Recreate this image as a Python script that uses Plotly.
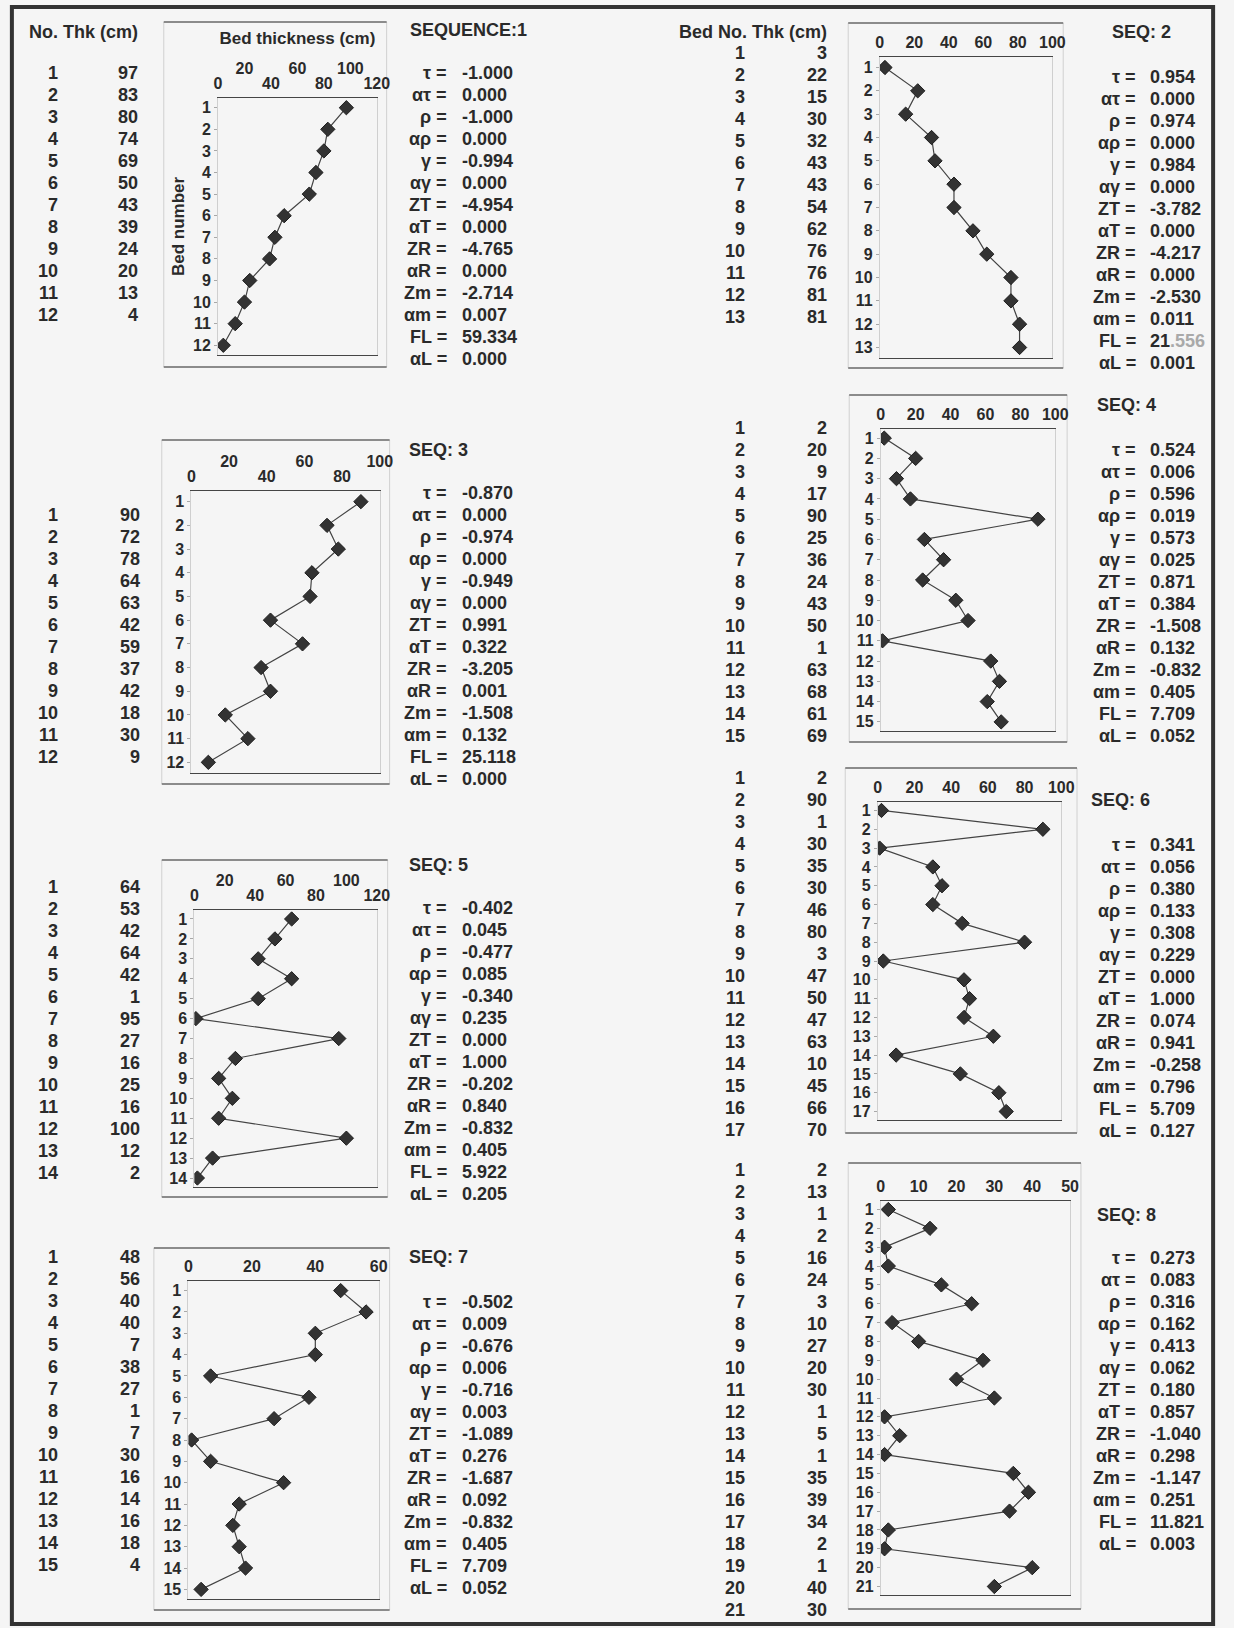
import plotly.graph_objects as go

W, H = 1234, 1628

# ---------------- data ----------------
seq_titles = ["SEQUENCE:1", "SEQ: 2", "SEQ: 3", "SEQ: 4", "SEQ: 5", "SEQ: 6", "SEQ: 7", "SEQ: 8"]

thk1 = [97, 83, 80, 74, 69, 50, 43, 39, 24, 20, 13, 4]
thk2 = [3, 22, 15, 30, 32, 43, 43, 54, 62, 76, 76, 81, 81]
thk3 = [90, 72, 78, 64, 63, 42, 59, 37, 42, 18, 30, 9]
thk4 = [2, 20, 9, 17, 90, 25, 36, 24, 43, 50, 1, 63, 68, 61, 69]
thk5 = [64, 53, 42, 64, 42, 1, 95, 27, 16, 25, 16, 100, 12, 2]
thk6 = [2, 90, 1, 30, 35, 30, 46, 80, 3, 47, 50, 47, 63, 10, 45, 66, 70]
thk7 = [48, 56, 40, 40, 7, 38, 27, 1, 7, 30, 16, 14, 16, 18, 4]
thk8 = [2, 13, 1, 2, 16, 24, 3, 10, 27, 20, 30, 1, 5, 1, 35, 39, 34, 2, 1, 40, 30]

stat_labels = ["τ =", "ατ =", "ρ =", "αρ =", "γ =", "αγ =", "ZT =", "αT =",
               "ZR =", "αR =", "Zm =", "αm =", "FL =", "αL ="]

stats1 = ["-1.000", "0.000", "-1.000", "0.000", "-0.994", "0.000", "-4.954", "0.000",
          "-4.765", "0.000", "-2.714", "0.007", "59.334", "0.000"]
stats2 = ["0.954", "0.000", "0.974", "0.000", "0.984", "0.000", "-3.782", "0.000",
          "-4.217", "0.000", "-2.530", "0.011", "21.556", "0.001"]
stats3 = ["-0.870", "0.000", "-0.974", "0.000", "-0.949", "0.000", "0.991", "0.322",
          "-3.205", "0.001", "-1.508", "0.132", "25.118", "0.000"]
stats4 = ["0.524", "0.006", "0.596", "0.019", "0.573", "0.025", "0.871", "0.384",
          "-1.508", "0.132", "-0.832", "0.405", "7.709", "0.052"]
stats5 = ["-0.402", "0.045", "-0.477", "0.085", "-0.340", "0.235", "0.000", "1.000",
          "-0.202", "0.840", "-0.832", "0.405", "5.922", "0.205"]
stats6 = ["0.341", "0.056", "0.380", "0.133", "0.308", "0.229", "0.000", "1.000",
          "0.074", "0.941", "-0.258", "0.796", "5.709", "0.127"]
stats7 = ["-0.502", "0.009", "-0.676", "0.006", "-0.716", "0.003", "-1.089", "0.276",
          "-1.687", "0.092", "-0.832", "0.405", "7.709", "0.052"]
stats8 = ["0.273", "0.083", "0.316", "0.162", "0.413", "0.062", "0.180", "0.857",
          "-1.040", "0.298", "-1.147", "0.251", "11.821", "0.003"]

# x-axis tick values (lower row, upper staggered row)
ticks_lo = [[0, 40, 80, 120], [0, 20, 40, 60, 80, 100], [0, 40, 80], [0, 20, 40, 60, 80, 100],
            [0, 40, 80, 120], [0, 20, 40, 60, 80, 100], [0, 20, 40, 60], [0, 10, 20, 30, 40, 50]]
ticks_hi = [[20, 60, 100], [], [20, 60, 100], [], [20, 60, 100], [], [], []]
x_max = [120, 100, 100, 100, 120, 100, 60, 50]

table_headers = ["No. Thk (cm)", "Bed No. Thk (cm)", "", "", "", "", "", ""]

thks = [thk1, thk2, thk3, thk4, thk5, thk6, thk7, thk8]
stats = [stats1, stats2, stats3, stats4, stats5, stats6, stats7, stats8]

# ---------------- layout geometry (pixels) ----------------
geo = [
    dict(plot=(217, 378, 98, 355), box=(162, 388, 22, 367), row0=73, stat0=73, title=(410, 30),
         col_bed=57, col_thk=138, lab=451, val=462, head=32),
    dict(plot=(888, 1063, 57, 358), box=(856, 1074, 23, 368), row0=53, stat0=77, title=(1121, 32),
         col_bed=753, col_thk=837, lab=1150, val=1160, head=32),
    dict(plot=(190, 381, 491, 773), box=(160, 391, 440, 784), row0=515, stat0=493, title=(409, 450),
         col_bed=57, col_thk=140, lab=451, val=462, head=None),
    dict(plot=(889, 1066, 429, 731), box=(857, 1078, 395, 742), row0=428, stat0=450, title=(1106, 405),
         col_bed=753, col_thk=837, lab=1150, val=1160, head=None),
    dict(plot=(193, 378, 910, 1187), box=(160, 389, 860, 1197), row0=887, stat0=908, title=(409, 865),
         col_bed=57, col_thk=140, lab=451, val=462, head=None),
    dict(plot=(886, 1072, 802, 1120), box=(853, 1088, 768, 1133), row0=778, stat0=845, title=(1100, 800),
         col_bed=753, col_thk=837, lab=1150, val=1160, head=None),
    dict(plot=(187, 380, 1281, 1599), box=(152, 391, 1248, 1610), row0=1257, stat0=1302, title=(409, 1257),
         col_bed=57, col_thk=140, lab=451, val=462, head=None),
    dict(plot=(889, 1081, 1201, 1595), box=(856, 1092, 1163, 1609), row0=1170, stat0=1258, title=(1106, 1215),
         col_bed=753, col_thk=837, lab=1150, val=1160, head=None),
]
LINE = 22.0

FONT = "Liberation Sans"
TXT = "#2a2a2a"
BG = "#f5f5f5"


def fx(x):
    return x / W


def fy(y):
    return 1 - y / H


fig = go.Figure()
annotations = []
shapes = []
layout = {}


def txt(x, y, s, anchor="left", size=18, color=TXT):
    annotations.append(dict(x=fx(x), y=fy(y), xref="paper", yref="paper", text=s, showarrow=False,
                            xanchor=anchor, yanchor="middle",
                            font=dict(family=FONT, size=size, color=color, weight="bold")))


def fmt_value(seq_idx, stat_idx, val):
    # the scanned original shows the decimals of FL in SEQ 2 faded
    if seq_idx == 1 and stat_idx == 12 and "." in val:
        a, b = val.split(".", 1)
        return a + "<span style='color:#a9a9a9'>." + b + "</span>"
    return val


for i in range(8):
    k = i + 1
    g = geo[i]
    thk = thks[i]
    n = len(thk)
    beds = list(range(1, n + 1))
    xs = "" if k == 1 else str(k)
    px0, px1, py0, py1 = g["plot"]
    right_col = (i % 2 == 1)
    tick_size = 16

    fig.add_trace(go.Scatter(
        x=thk, y=beds, mode="lines+markers", xaxis="x" + xs, yaxis="y" + xs,
        line=dict(color="#444444", width=1.2),
        marker=dict(symbol="diamond", size=11, color="#333333", line=dict(color="#1e1e1e", width=1)),
        showlegend=False, hoverinfo="skip"))

    xa = dict(domain=[fx(px0), fx(px1)], anchor="y" + xs, side="top", range=[0, x_max[i]],
              tickmode="array", tickvals=ticks_lo[i], showline=True, linecolor="#454545", linewidth=1.3,
              mirror=True, showgrid=False, zeroline=False, ticks="", ticklabelstandoff=1,
              tickfont=dict(family=FONT, size=tick_size, color=TXT, weight="bold"), fixedrange=True)
    ya = dict(domain=[fy(py1), fy(py0)], anchor="x" + xs, range=[n + 0.45, 0.55],
              tickmode="array", tickvals=beds, showline=True, linecolor="#cfcfcf", linewidth=1,
              mirror=True, showgrid=False, zeroline=False, ticks="outside", ticklen=3, tickcolor="#a8a8a8",
              tickfont=dict(family=FONT, size=16, color=TXT, weight="bold"), fixedrange=True)
    if k == 1:
        xa["title"] = dict(text="Bed thickness (cm)", standoff=26,
                           font=dict(family=FONT, size=17, color=TXT, weight="bold"))
        ya["title"] = dict(text="Bed number", standoff=4,
                           font=dict(family=FONT, size=17, color=TXT, weight="bold"))
    layout["xaxis" + xs] = xa
    layout["yaxis" + xs] = ya

    if ticks_hi[i]:
        ko = str(8 + k)
        fig.add_trace(go.Scatter(x=[], y=[], xaxis="x" + ko, yaxis="y" + xs,
                                 showlegend=False, hoverinfo="skip"))
        layout["xaxis" + ko] = dict(overlaying="x" + xs, anchor="y" + xs, side="top", range=[0, x_max[i]],
                                    tickmode="array", tickvals=ticks_hi[i], showline=False, showgrid=False,
                                    zeroline=False, ticks="", ticklabelstandoff=20,
                                    tickfont=dict(family=FONT, size=tick_size, color=TXT, weight="bold"),
                                    fixedrange=True)

    # chart box
    bx0, bx1, by0, by1 = g["box"]
    shapes.append(dict(type="rect", xref="paper", yref="paper", x0=fx(bx0), x1=fx(bx1), y0=fy(by1), y1=fy(by0),
                       line=dict(color="#d0d0d0", width=1), layer="below"))
    for yy in (by0, by1):
        shapes.append(dict(type="line", xref="paper", yref="paper", x0=fx(bx0), x1=fx(bx1), y0=fy(yy), y1=fy(yy),
                           line=dict(color="#6e6e6e", width=1.3)))

    # table
    if table_headers[i]:
        txt(g["col_thk"], g["head"], table_headers[i], anchor="right")
    for r in range(n):
        yy = g["row0"] + r * LINE
        txt(g["col_bed"], yy, str(beds[r]), anchor="right")
        txt(g["col_thk"], yy, str(thk[r]), anchor="right")

    # sequence title and statistics
    txt(g["title"][0], g["title"][1], seq_titles[i], anchor="left")
    for r, (lab, val) in enumerate(zip(stat_labels, stats[i])):
        yy = g["stat0"] + r * LINE
        txt(g["lab"], yy, lab, anchor="right")
        txt(g["val"], yy, fmt_value(i, r, val), anchor="left")

# outer frame
shapes.append(dict(type="rect", xref="paper", yref="paper", x0=fx(8), x1=fx(1226), y0=fy(1624), y1=fy(7),
                   line=dict(color="#333333", width=4)))

fig.update_layout(
    width=W, height=H, margin=dict(l=0, r=0, t=0, b=0),
    paper_bgcolor=BG, plot_bgcolor="rgba(0,0,0,0)",
    showlegend=False, annotations=annotations, shapes=shapes,
    font=dict(family=FONT, color=TXT),
    **layout)

fig.write_html("out.html", config={"displayModeBar": False},
               post_script="document.body.style.margin='0';document.body.style.overflow='hidden';")
